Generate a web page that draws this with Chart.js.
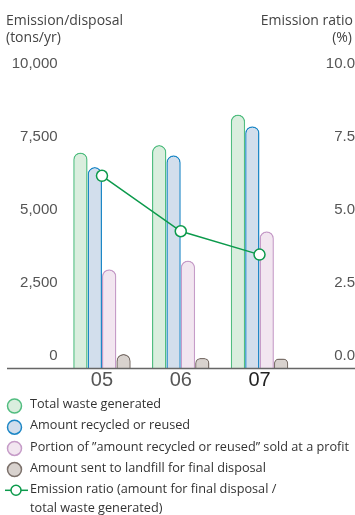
<!DOCTYPE html>
<html>
<head>
<meta charset="utf-8">
<script src="https://cdn.jsdelivr.net/npm/chart.js@4/dist/chart.umd.min.js"></script>
<style>
  html, body { margin: 0; padding: 0; background: #fff; }
  #wrap { position: relative; width: 355px; height: 515px; }
</style>
</head>
<body>
<div id="wrap"><canvas id="c" width="355" height="515"></canvas></div>
<script>
// Fiscal years
const years = ['05', '06', '07'];
// Tons per year
const totalWaste   = [7400, 7650, 8700];
const recycled     = [6900, 7300, 8300];
const soldAtProfit = [3400, 3700, 4700];
const landfill     = [500, 360, 340];
// Percent
const emissionRatio = [6.6, 4.7, 3.9];

const leftTicks  = [0, 2500, 5000, 7500, 10000];
const rightTicks = [0, 2.5, 5, 7.5, 10];

const seriesNames = [
  'Total waste generated',
  'Amount recycled or reused',
  'Portion of \u201Damount recycled or reused\u201D sold at a profit',
  'Amount sent to landfill for final disposal'
];
const ratioName = ['Emission ratio (amount for final disposal /', 'total waste generated)'];
const leftTitle  = ['Emission/disposal', '(tons/yr)'];
const rightTitle = ['Emission ratio', '(%)'];

const fills = ['#daeede', '#d2deec', '#f2e6f0', '#d8d2ce'];
const edges = ['#52bd80', '#1d87c6', '#c69cc8', '#7c716b'];
const lineColor = '#0c9a4c';

const TEXT_FONT = '"Open Sans", sans-serif';
const NUM_FONT = '"Liberation Sans", Arial, sans-serif';

function barSet(label, data, i) {
  return {
    type: 'bar', label, data, yAxisID: 'y', order: 1,
    backgroundColor: fills[i], borderColor: edges[i], borderWidth: 1.5,
    borderSkipped: 'start', borderRadius: { topLeft: 8, topRight: 8 },
    barPercentage: 1, categoryPercentage: 0.73
  };
}

const decorations = {
  id: 'decorations',
  afterDatasetsDraw(chart) {
    const ctx = chart.ctx;
    const y0 = chart.scales.y.getPixelForValue(0);
    ctx.save();
    ctx.strokeStyle = '#666';
    ctx.lineWidth = 1.5;
    ctx.beginPath();
    ctx.moveTo(7, y0);
    ctx.lineTo(chart.width, y0);
    ctx.stroke();
    ctx.restore();
  },
  afterDraw(chart) {
    const ctx = chart.ctx;
    ctx.save();
    ctx.fillStyle = '#444';
    ctx.font = '14px ' + TEXT_FONT;
    ctx.textBaseline = 'middle';
    ctx.textAlign = 'left';
    ctx.fillText(leftTitle[0], 6, 21.5);
    ctx.fillText(leftTitle[1], 6, 38.5);
    ctx.textAlign = 'right';
    ctx.fillText(rightTitle[0], 353, 21.5);
    ctx.fillText(rightTitle[1], 352, 38.5);

    // legend
    ctx.font = '12.7px ' + TEXT_FONT;
    ctx.textAlign = 'left';
    ctx.fillStyle = '#333';
    const rows = [404.5, 425.7, 446.9, 468.1, 489.3];
    seriesNames.forEach((name, i) => {
      const y = rows[i];
      ctx.beginPath();
      ctx.arc(14.5, y + 1.5, 7, 0, Math.PI * 2);
      ctx.fillStyle = fills[i];
      ctx.fill();
      ctx.lineWidth = 1.5;
      ctx.strokeStyle = edges[i];
      ctx.stroke();
      ctx.fillStyle = '#333';
      ctx.fillText(name, 30, y);
    });
    const yl = rows[4];
    ctx.strokeStyle = lineColor;
    ctx.lineWidth = 1.5;
    ctx.beginPath();
    ctx.moveTo(5, yl + 1);
    ctx.lineTo(28, yl + 1);
    ctx.stroke();
    ctx.beginPath();
    ctx.arc(16, yl + 1, 5, 0, Math.PI * 2);
    ctx.fillStyle = '#fff';
    ctx.fill();
    ctx.stroke();
    ctx.fillStyle = '#333';
    ctx.fillText(ratioName[0], 30, yl);
    ctx.fillText(ratioName[1], 30, yl + 19);
    ctx.restore();
  }
};

new Chart(document.getElementById('c'), {
  data: {
    labels: years,
    datasets: [
      {
        type: 'line', label: 'Emission ratio', data: emissionRatio, yAxisID: 'y1', order: 0,
        borderColor: lineColor, borderWidth: 1.5, tension: 0,
        pointRadius: 5.5, pointBackgroundColor: '#fff', pointBorderColor: lineColor, pointBorderWidth: 1.5
      },
      barSet(seriesNames[0], totalWaste, 0),
      barSet(seriesNames[1], recycled, 1),
      barSet(seriesNames[2], soldAtProfit, 2),
      barSet(seriesNames[3], landfill, 3)
    ]
  },
  options: {
    responsive: false,
    animation: false,
    devicePixelRatio: 1,
    layout: { padding: { top: 76.5, bottom: 116.5, left: 0, right: 0 } },
    plugins: { legend: { display: false }, tooltip: { enabled: false } },
    scales: {
      x: {
        grid: { display: false, drawTicks: false },
        border: { display: false },
        ticks: {
          font: { family: NUM_FONT, size: 20 },
          color: (c) => c.index === years.length - 1 ? '#222' : '#555',
          padding: 0
        },
        afterFit: (s) => { s.height = 30; }
      },
      y: {
        position: 'left', min: 0, max: 10000,
        grid: { display: false, drawTicks: false },
        border: { display: false },
        afterBuildTicks: (s) => { s.ticks = leftTicks.map(v => ({ value: v })); },
        ticks: {
          font: { family: NUM_FONT, size: 15 }, color: '#555', padding: 5, labelOffset: -13,
          callback: (v) => v.toLocaleString('en-US')
        },
        afterFit: (s) => { s.width = 62.6; }
      },
      y1: {
        position: 'right', min: 0, max: 10,
        grid: { display: false, drawTicks: false },
        border: { display: false },
        afterBuildTicks: (s) => { s.ticks = rightTicks.map(v => ({ value: v })); },
        ticks: {
          font: { family: NUM_FONT, size: 15 }, color: '#555', padding: 7, labelOffset: -13,
          crossAlign: 'far',
          callback: (v) => v.toFixed(1)
        },
        afterFit: (s) => { s.width = 56.1; }
      }
    }
  },
  plugins: [decorations]
});
</script>
</body>
</html>
